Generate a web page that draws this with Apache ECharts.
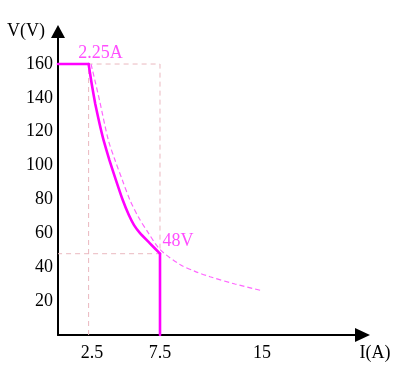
<!DOCTYPE html>
<html>
<head>
<meta charset="utf-8">
<script src="https://cdn.jsdelivr.net/npm/echarts@6/dist/echarts.min.js"></script>
<style>html,body{margin:0;padding:0;background:#fff}#c{width:400px;height:372px}</style>
</head>
<body>
<div id="c"></div>
<script>
// Data (I in A, V in V)
const xTickValues = [2.5, 7.5, 15];
const yTickStep = 20;
const solidFlat = [[0,160],[2.25,160]];
const solidCurve = [[2.25,160],[2.48,148.2],[2.74,136.4],[3.06,124.6],[3.35,115.1],[3.78,103.3],[4.26,91.5],[4.76,79.7],[5.21,70.8],[5.59,64.9],[6.03,60.2],[6.74,54.3],[7.5,48]];
const solidDrop = [[7.5,48],[7.5,0]];
const dashedCurve = [[2.43,160],[3.05,138.7],[3.7,115.1],[4.19,103.3],[4.73,91.5],[5.29,79.7],[5.9,69.8],[6.64,60.3],[7.5,50.5],[8.97,41.6],[10.07,37.6],[11.18,34.4],[13.01,30.1],[14.98,26.2]];
const guideLines = [[2.25,0],[2.25,160],[7.5,160],[7.5,48],[0,48]];
const annotations = [{point:[2.25,160], text:'2.25A'}, {point:[7.5,48], text:'48V'}];
const xName = 'I(A)';
const yName = 'V(V)';

const serif = 'Liberation Serif';
const solidStyle = {color: '#ff00ff', width: 2.6, cap: 'round', join: 'round'};
const chart = echarts.init(document.getElementById('c'));
chart.setOption({
  animation: false,
  grid: {left: 58, right: 37.5, top: 31.5, bottom: 37, outerBoundsMode: 'none', containLabel: false},
  xAxis: {
    type: 'value', min: 0, max: 22.39,
    name: xName, nameLocation: 'end', nameGap: 12.5,
    nameTextStyle: {fontFamily: serif, fontSize: 18, color: '#000', align: 'center', verticalAlign: 'top', padding: [9,0,0,0]},
    axisLine: {show: true, lineStyle: {color: '#000', width: 2}, symbol: ['none','triangle'], symbolSize: [14,15]},
    axisTick: {show: false},
    splitLine: {show: false},
    axisLabel: {customValues: xTickValues, fontFamily: serif, fontSize: 18, color: '#000', margin: 9}
  },
  yAxis: {
    type: 'value', min: 0, max: 179.2, interval: yTickStep,
    name: yName, nameLocation: 'end', nameGap: 0,
    nameTextStyle: {fontFamily: serif, fontSize: 18, color: '#000', align: 'right', verticalAlign: 'middle', padding: [0,13,0,0]},
    axisLine: {show: true, lineStyle: {color: '#000', width: 2}, symbol: ['none','triangle'], symbolSize: [14,13]},
    axisTick: {show: false},
    splitLine: {show: false},
    axisLabel: {fontFamily: serif, fontSize: 18, color: '#000', margin: 5, showMinLabel: false, showMaxLabel: false,
      formatter: v => (v === 0 || v > 160) ? '' : String(v)}
  },
  series: [
    {type: 'line', data: guideLines, symbol: 'none', z: 1,
     lineStyle: {color: '#eab8bf', width: 1, type: [5,4]}},
    {type: 'line', data: dashedCurve, symbol: 'none', z: 2, smooth: 0.3,
     lineStyle: {color: '#ff66ff', width: 1.2, type: [5,3]}},
    {type: 'line', data: solidFlat, symbol: 'none', z: 3, lineStyle: solidStyle},
    {type: 'line', data: solidCurve, symbol: 'none', z: 3, smooth: 0.15, lineStyle: solidStyle},
    {type: 'line', data: solidDrop, symbol: 'none', z: 3, lineStyle: solidStyle},
    {type: 'scatter', symbolSize: 0, z: 4,
     data: annotations.map((a, i) => ({value: a.point, label: {show: true, formatter: a.text,
       position: 'inside', offset: i === 0 ? [12,-11] : [18,-12],
       fontFamily: serif, fontSize: 18, color: '#ff22ff'}}))}
  ]
});
</script>
</body>
</html>
